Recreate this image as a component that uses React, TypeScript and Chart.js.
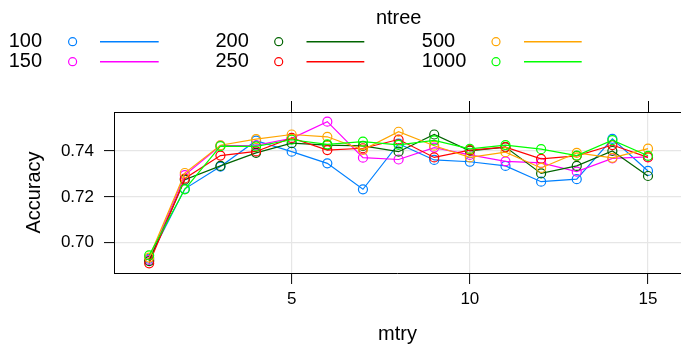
import React, { useEffect, useRef } from "react";
import { Chart, registerables } from "chart.js";

Chart.register(...registerables);

// ---- data ----
const mtry = [1, 2, 3, 4, 5, 6, 7, 8, 9, 10, 11, 12, 13, 14, 15];
const acc100 = [0.693, 0.7235, 0.7332, 0.7445, 0.7397, 0.7346, 0.7233, 0.7432, 0.7361, 0.7353, 0.7335, 0.7266, 0.7277, 0.7453, 0.7313];
const acc150 = [0.6925, 0.7295, 0.7423, 0.7425, 0.7455, 0.7528, 0.7371, 0.7363, 0.7415, 0.7383, 0.7355, 0.7348, 0.731, 0.7368, 0.7374];
const acc200 = [0.692, 0.7275, 0.7335, 0.7392, 0.7434, 0.7426, 0.7422, 0.7397, 0.7472, 0.7401, 0.7417, 0.7302, 0.7335, 0.74, 0.7291];
const acc250 = [0.691, 0.728, 0.738, 0.7398, 0.7457, 0.7404, 0.7412, 0.745, 0.7372, 0.7404, 0.7417, 0.7366, 0.7379, 0.7426, 0.7372];
const acc500 = [0.6935, 0.7304, 0.7425, 0.7452, 0.7472, 0.7462, 0.7405, 0.7484, 0.7423, 0.7372, 0.7395, 0.7326, 0.7392, 0.737, 0.741];
const acc1000 = [0.6945, 0.7233, 0.7421, 0.742, 0.7449, 0.7429, 0.7441, 0.7427, 0.7446, 0.7409, 0.7426, 0.7408, 0.738, 0.7447, 0.7379];

const seriesNames = ["100", "150", "200", "250", "500", "1000"];
const seriesColors = ["#0080ff", "#ff00ff", "#006400", "#ff0000", "#ffa500", "#00ff00"];
const xTicks = [5, 10, 15];
const yTicks = [0.7, 0.72, 0.74];
const legendTitle = "ntree";
const xTitle = "mtry";
const yTitle = "Accuracy";

const FONT = "'Liberation Sans', Arial, Helvetica, sans-serif";
const CANVAS_W = 700;

export default function App() {
  const ref = useRef<HTMLCanvasElement | null>(null);

  useEffect(() => {
    const canvas = ref.current;
    if (!canvas) return;
    const series = [acc100, acc150, acc200, acc250, acc500, acc1000];

    const keyPlugin = {
      id: "latticeKey",
      afterDraw(chart: any) {
        const ctx = chart.ctx;
        ctx.save();
        ctx.font = `20px ${FONT}`;
        ctx.fillStyle = "#000";
        ctx.textBaseline = "middle";
        ctx.textAlign = "center";
        ctx.fillText(legendTitle, 398.7, 18);
        const colX = [8.7, 215.5, 421.8];
        const markX = [72.6, 278.7, 496];
        const lineX = [
          [100, 158.7],
          [306.5, 364.3],
          [524, 581.7],
        ];
        const rowY = [41.7, 61.7];
        seriesNames.forEach((name, i) => {
          const c = Math.floor(i / 2);
          const r = i % 2;
          ctx.textAlign = "left";
          ctx.fillStyle = "#000";
          ctx.fillText(name, colX[c], rowY[r]);
          ctx.strokeStyle = seriesColors[i];
          ctx.lineWidth = 1.2;
          ctx.beginPath();
          ctx.arc(markX[c], rowY[r], 4, 0, Math.PI * 2);
          ctx.stroke();
          ctx.lineWidth = 1.5;
          ctx.beginPath();
          ctx.moveTo(lineX[c][0], rowY[r]);
          ctx.lineTo(lineX[c][1], rowY[r]);
          ctx.stroke();
        });
        ctx.restore();
      },
    };

    const chart = new Chart(canvas, {
      type: "line",
      data: {
        datasets: series.map((vals, i) => ({
          label: seriesNames[i],
          data: mtry.map((m, j) => ({ x: m, y: vals[j] })),
          borderColor: seriesColors[i],
          backgroundColor: "transparent",
          borderWidth: 1.2,
          pointRadius: 4.5,
          pointBorderWidth: 1.2,
          pointBackgroundColor: "transparent",
          pointBorderColor: seriesColors[i],
          pointStyle: "circle",
          tension: 0,
          fill: false,
          order: series.length - i,
        })),
      },
      options: {
        responsive: false,
        animation: false,
        devicePixelRatio: 1,
        layout: { padding: { top: 101, left: 0, right: CANVAS_W - 681, bottom: 0 } },
        plugins: {
          legend: { display: false },
          tooltip: { enabled: false },
        },
        scales: {
          x: {
            type: "linear",
            position: "bottom",
            min: 0.013,
            max: 15.926,
            afterBuildTicks: (s: any) => {
              s.ticks = xTicks.map((v) => ({ value: v }));
            },
            afterFit: (s: any) => {
              s.height = 75;
            },
            ticks: {
              color: "#000",
              font: { family: FONT, size: 17 },
              padding: 5,
              maxRotation: 0,
              callback: (v: any) => String(v),
            },
            grid: {
              color: "#e6e6e6",
              lineWidth: 1.2,
              tickColor: "#000",
              tickLength: 11,
              tickWidth: 1,
            },
            border: { display: true, color: "#000", width: 1 },
            title: {
              display: true,
              text: xTitle,
              color: "#000",
              font: { family: FONT, size: 20 },
              padding: { top: 0, bottom: 2 },
            },
          },
          x2: {
            type: "linear",
            position: "top",
            min: 0.013,
            max: 15.926,
            afterBuildTicks: (s: any) => {
              s.ticks = xTicks.map((v) => ({ value: v }));
            },
            afterFit: (s: any) => {
              s.height = 11;
            },
            ticks: { display: false },
            grid: {
              drawOnChartArea: false,
              color: "#000",
              tickColor: "#000",
              tickLength: 11,
              tickWidth: 1,
            },
            border: { display: true, color: "#000", width: 1 },
          },
          y: {
            type: "linear",
            position: "left",
            min: 0.68678,
            max: 0.75701,
            afterBuildTicks: (s: any) => {
              s.ticks = yTicks.map((v) => ({ value: v }));
            },
            afterFit: (s: any) => {
              s.width = 114;
            },
            ticks: {
              color: "#000",
              font: { family: FONT, size: 17 },
              padding: 10,
              callback: (v: any) => Number(v).toFixed(2),
            },
            grid: {
              color: "#e6e6e6",
              lineWidth: 1.2,
              tickColor: "#000",
              tickLength: 10,
              tickWidth: 1,
            },
            border: { display: true, color: "#000", width: 1 },
            title: {
              display: true,
              text: yTitle,
              color: "#000",
              font: { family: FONT, size: 20 },
              padding: { top: 22, bottom: 0 },
            },
          },
        },
      },
      plugins: [keyPlugin],
    } as any);

    return () => {
      chart.destroy();
    };
  }, []);

  return (
    <div
      style={{
        position: "fixed",
        left: 0,
        top: 0,
        width: 681,
        height: 348,
        overflow: "hidden",
        background: "#fff",
      }}
    >
      <canvas
        ref={ref}
        width={CANVAS_W}
        height={348}
        style={{ display: "block", width: CANVAS_W, height: 348 }}
      />
    </div>
  );
}
